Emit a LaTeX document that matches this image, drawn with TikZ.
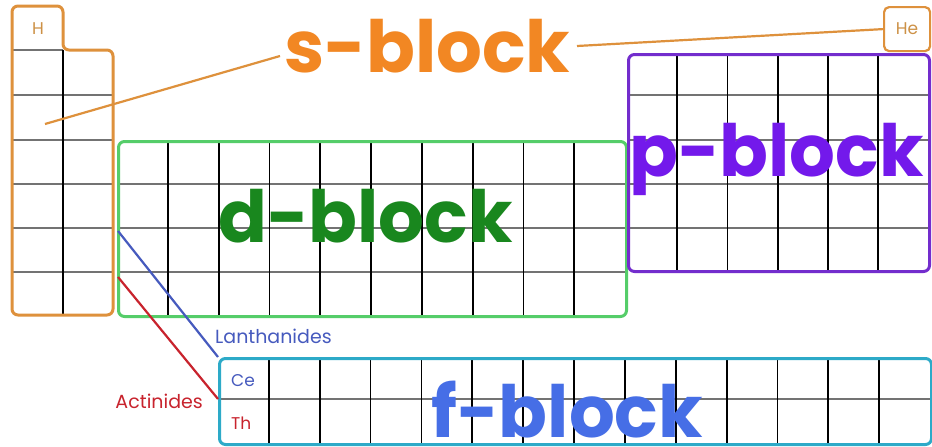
\documentclass[tikz,border=0pt]{standalone}
\usepackage{fontspec}
\newfontfamily\blkfont{Poppins}
\usetikzlibrary{calc}
\definecolor{sorange}{RGB}{242,135,35}
\definecolor{sedge}{RGB}{222,145,60}
\definecolor{dgreen}{RGB}{25,135,30}
\definecolor{dedge}{RGB}{85,205,105}
\definecolor{ppurple}{RGB}{115,25,235}
\definecolor{pedge}{RGB}{115,45,205}
\definecolor{fblue}{RGB}{70,110,230}
\definecolor{fedge}{RGB}{45,170,200}
\definecolor{lanblue}{RGB}{70,90,190}
\definecolor{actred}{RGB}{200,35,45}
\definecolor{elemtxt}{RGB}{205,145,70}
\tikzset{
  rowline/.style={draw=black!55, line width=2pt},
  colline/.style={draw=black, line width=1.8pt},
  blockedge/.style={line width=3pt, rounded corners=6pt, inner sep=0pt, anchor=north west},
  cellbox/.style={draw=sedge, line width=2.2pt, rounded corners=5pt, fill=white, inner sep=0pt, minimum width=46pt, minimum height=44pt, anchor=north west},
  bigtag/.style={font=\blkfont\bfseries\fontsize{72}{72}\selectfont, inner sep=0pt, anchor=base west},
  smalltag/.style={font=\blkfont\fontsize{17}{17}\selectfont, inner sep=0pt},
  seriestag/.style={font=\blkfont\fontsize{19}{19}\selectfont, inner sep=0pt},
  link/.style={line width=2.2pt}
}

\begin{document}
\begin{tikzpicture}[x=1pt, y=-1pt]
  \useasboundingbox[fill=white] (0,0) rectangle (932,447);

  % grid of the s-block
  \draw[rowline] (12,50) -- (63,50);
  \foreach \r in {95,140,184,228,272}
    \draw[rowline] (12,\r) -- (113,\r);
  \draw[colline] (63,50) -- (63,315);

  % grid of the d-block
  \foreach \r in {184,228,272}
    \draw[rowline] (117,\r) -- (625,\r);
  \foreach \c in {1,...,9}
    \draw[colline] ({117+50.8*\c},140) -- ({117+50.8*\c},315);

  % grid of the p-block
  \foreach \r in {95,140,184,228}
    \draw[rowline] (627,\r) -- (928,\r);
  \foreach \c in {1,...,5}
    \draw[colline] ({627+50.2*\c},53) -- ({627+50.2*\c},270);

  % grid of the f-block
  \draw[rowline] (218,399) -- (930,399);
  \foreach \c in {1,...,13}
    \draw[colline] ({218+50.86*\c},357) -- ({218+50.86*\c},443);

  % block outlines
  \draw[blockedge, draw=sedge] (12,6) -- (63,6) -- (63,50) -- (113,50) -- (113,315) -- (12,315) -- cycle;
  \node[blockedge, draw=dedge, minimum width=508pt, minimum height=175pt] (dblk) at (117,140) {};
  \node[blockedge, draw=pedge, minimum width=301pt, minimum height=217pt] (pblk) at (627,53) {};
  \node[blockedge, draw=fedge, minimum width=712pt, minimum height=86pt] (fblk) at (218,357) {};
  \node[cellbox] (He) at (883,6) {};

  % element symbols
  \node[smalltag, text=elemtxt] (Hsym) at (38,29) {H};
  \node[smalltag, text=elemtxt] (Hesym) at (He.center) {He};
  \node[smalltag, text=lanblue, anchor=west] (Ce) at (231,381) {Ce};
  \node[smalltag, text=actred, anchor=west] (Th) at (231,423) {Th};

  % block names
  \node[bigtag, text=sorange] (stag) at (284,72) {s-block};
  \node[bigtag, text=dgreen] (dtag) at (218,242) {d-block};
  \node[bigtag, text=ppurple] (ptag) at (629,176) {p-block};
  \node[bigtag, text=fblue] (ftag) at (431,437) {f-block};

  % series names
  \node[seriestag, text=lanblue, anchor=west] (lan) at (215,336) {Lanthanides};
  \node[seriestag, text=actred, anchor=east] (act) at (203,401) {Actinides};

  % connectors
  \coordinate (sin) at (45,124);
  \coordinate (sleft) at (280,56);
  \coordinate (sright) at (577,46);
  \coordinate (lanfrom) at (118,231);
  \coordinate (actfrom) at (118,277);
  \draw[link, sedge] (sin) -- (sleft);
  \draw[link, sedge] (sright) -- (He.west);
  \draw[link, lanblue] (lanfrom) -- (fblk.north west);
  \draw[link, actred] (actfrom) -- ($(fblk.north west)+(0,42)$);
\end{tikzpicture}
\end{document}
